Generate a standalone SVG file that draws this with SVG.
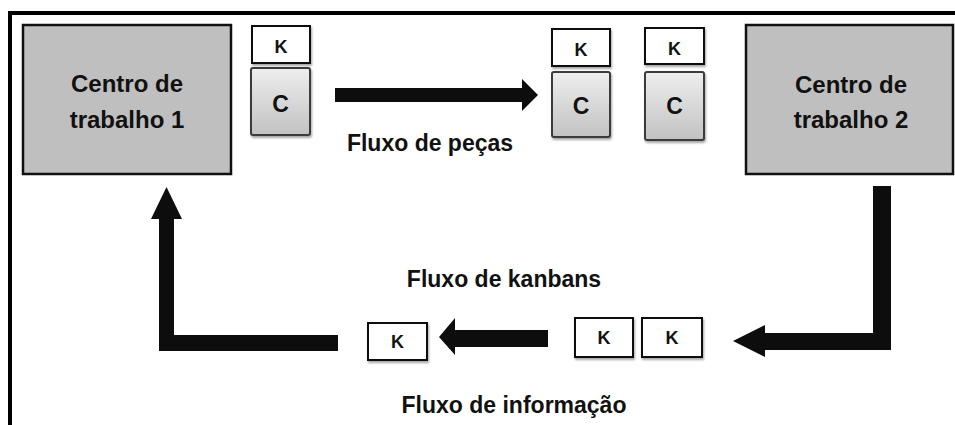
<svg xmlns="http://www.w3.org/2000/svg" width="955" height="425" viewBox="0 0 955 425">
  <defs>
    <linearGradient id="cardFill" x1="0" y1="0" x2="0" y2="1">
      <stop offset="0" stop-color="#eeeeee"/>
      <stop offset="1" stop-color="#c2c2c2"/>
    </linearGradient>
    <filter id="soft" x="-20%" y="-20%" width="150%" height="150%">
      <feDropShadow dx="1" dy="2" stdDeviation="1.2" flood-color="#000" flood-opacity="0.35"/>
    </filter>
  </defs>
  <style>
    text { font-family: "Liberation Sans", Arial, sans-serif; font-weight: bold; fill: #111; text-anchor: middle; }
    .station { fill: #bfbfbf; stroke: #111; stroke-width: 2.5; }
    .station-label { font-size: 24px; }
    .kanban { fill: #ffffff; stroke: #111; stroke-width: 2; filter: url(#soft); }
    .kanban-label { font-size: 18px; }
    .container { fill: url(#cardFill); stroke: #3a3a3a; stroke-width: 2; filter: url(#soft); }
    .container-label { font-size: 23px; }
    .flow-label { font-size: 23px; }
    .arrow { fill: #0d0d0d; }
    .frame { stroke: #000; stroke-width: 4; fill: none; }
  </style>

  <rect width="955" height="425" fill="#ffffff"/>

  <!-- outer frame (top and left edges) -->
  <path class="frame" d="M10 425 V13 H955"/>

  <!-- work centre 1 -->
  <g id="centro1">
    <rect class="station" x="23" y="25" width="208" height="149"/>
    <text class="station-label" x="127" y="92">Centro de</text>
    <text class="station-label" x="127" y="128">trabalho 1</text>
  </g>

  <!-- work centre 2 -->
  <g id="centro2">
    <rect class="station" x="746" y="25" width="207" height="149"/>
    <text class="station-label" x="851" y="93">Centro de</text>
    <text class="station-label" x="851" y="128">trabalho 2</text>
  </g>

  <!-- container with kanban at work centre 1 output -->
  <g id="lote1">
    <rect class="kanban" x="252" y="26" width="58" height="37"/>
    <text class="kanban-label" x="281" y="53">K</text>
    <rect class="container" x="251" y="68" width="59" height="67" rx="2"/>
    <text class="container-label" x="280.5" y="112">C</text>
  </g>

  <!-- containers waiting at work centre 2 input -->
  <g id="lote2">
    <rect class="kanban" x="552" y="29" width="58" height="37"/>
    <text class="kanban-label" x="581" y="56">K</text>
    <rect class="container" x="552" y="72" width="58" height="65" rx="2"/>
    <text class="container-label" x="581" y="114">C</text>
  </g>

  <g id="lote3">
    <rect class="kanban" x="645" y="28" width="59" height="36"/>
    <text class="kanban-label" x="674.5" y="55">K</text>
    <rect class="container" x="645" y="72" width="59" height="68" rx="2"/>
    <text class="container-label" x="674.5" y="114">C</text>
  </g>

  <!-- returning kanban cards -->
  <g id="kanbans-retorno">
    <rect class="kanban" x="575" y="318" width="58" height="39"/>
    <text class="kanban-label" x="604" y="344">K</text>
    <rect class="kanban" x="642" y="318" width="60" height="39"/>
    <text class="kanban-label" x="672" y="344">K</text>
  </g>

  <g id="kanban-livre">
    <rect class="kanban" x="368" y="323" width="59" height="37"/>
    <text class="kanban-label" x="397.5" y="348">K</text>
  </g>

  <!-- flow labels -->
  <g id="rotulos">
    <text class="flow-label" x="430" y="151">Fluxo de peças</text>
    <text class="flow-label" x="504" y="287">Fluxo de kanbans</text>
    <text class="flow-label" x="514" y="413">Fluxo de informação</text>
  </g>

  <!-- connectors: block arrows -->
  <g id="conectores">
    <!-- parts flow: centre 1 to centre 2 -->
    <polygon class="arrow" points="335,88 522,88 522,79 538,95 522,111 522,102 335,102"/>
    <!-- kanban return: down from centre 2 then left -->
    <polygon class="arrow" points="873,186 891,186 891,350 765,350 765,357 733,341 765,325 765,333 873,333"/>
    <!-- kanban flow between cards -->
    <polygon class="arrow" points="548,330 548,347 455,347 455,355 439,337 455,318 455,330"/>
    <!-- information back to centre 1 -->
    <polygon class="arrow" points="338,335 338,351 159,351 159,219 151,219 166.5,187 182,219 174,219 174,335"/>
  </g>
</svg>
